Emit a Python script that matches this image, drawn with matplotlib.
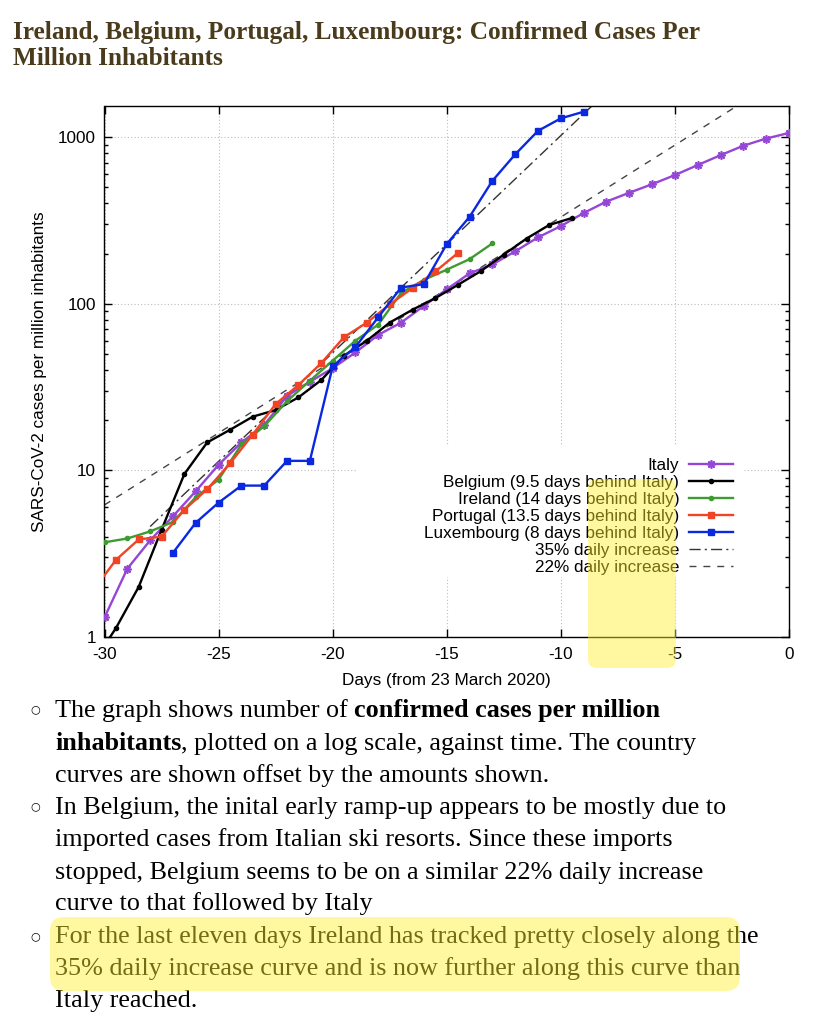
import numpy as np
import matplotlib
matplotlib.use('Agg')
import matplotlib.pyplot as plt
from matplotlib.patches import FancyBboxPatch, Rectangle
from matplotlib.ticker import LogLocator, NullFormatter, NullLocator

W, H = 828, 1019

# cases per million inhabitants, days relative to 23 March 2020 (Italy time)
italy_days = list(range(-30, 1))
italy = [1.31, 2.57, 3.8, 5.3, 7.5, 10.8, 14.7, 18.7, 28, 34, 41, 51, 65, 77, 97,
         122, 152, 172, 206, 250, 292, 350, 410, 463, 521, 591, 679, 778, 887, 979, 1058]

belgium_days = [d + 0.5 for d in range(-31, -9)]
belgium = [0.70, 1.13, 2.0, 4.4, 9.5, 14.7, 17.5, 21, 23, 27.4, 34.8, 48.8, 60, 77,
           92, 108, 130, 157, 197, 246, 297, 327]

ireland_days = list(range(-30, -12))
ireland = [3.7, 3.9, 4.3, 4.9, 6.9, 8.8, 14.3, 18.4, 26, 34.5, 45.5, 60, 75, 116,
           139, 160, 185, 230]

portugal_days = [d + 0.5 for d in range(-31, -14)]
portugal = [1.9, 2.9, 3.85, 4.0, 5.8, 7.7, 11.0, 16.4, 25, 32.5, 44, 63, 77, 99,
            124, 156, 202]

lux_days = list(range(-27, -8))
lux = [3.2, 4.85, 6.4, 8.1, 8.1, 11.4, 11.4, 42, 55, 83, 125, 131, 228, 332, 546,
       787, 1089, 1294, 1418]

# reference growth lines (end points)
r35_days = [-28, -8]
r35_vals = [4.6, 4.6 * 1.35 ** 20]
r22_days = [-30, 0]
r22_vals = [6.2, 6.2 * 1.22 ** 30]

labels = ['Italy', 'Belgium (9.5 days behind Italy)', 'Ireland (14 days behind Italy)',
          'Portugal (13.5 days behind Italy)', 'Luxembourg (8 days behind Italy)',
          '35% daily increase', '22% daily increase']

plt.rcParams['font.family'] = ['Liberation Sans', 'DejaVu Sans']
fs = 12.3

fig = plt.figure(figsize=(W / 100, H / 100), dpi=100)
ax_l, ax_r, ax_t, ax_b = 104.5, 789, 106, 637
ax = fig.add_axes([ax_l / W, 1 - ax_b / H, (ax_r - ax_l) / W, (ax_b - ax_t) / H])
ax.set_yscale('log')

lw = 1.7
ax.plot(italy_days, italy, color='#9646d6', lw=lw, marker=(8, 2, 0), ms=6, mew=1.2,
        label=labels[0], zorder=3)
ax.plot(belgium_days, belgium, color='black', lw=lw, marker='o', ms=3, label=labels[1], zorder=3)
ax.plot(ireland_days, ireland, color='#3f9a32', lw=lw, marker='o', ms=3, label=labels[2], zorder=3)
ax.plot(portugal_days, portugal, color='#f04424', lw=lw, marker='s', ms=4, label=labels[3], zorder=3)
ax.plot(lux_days, lux, color='#0a28e0', lw=lw, marker='s', ms=4, label=labels[4], zorder=3)
ax.plot(r35_days, r35_vals, color='#333333', lw=1.0, ls=(0, (8, 3, 1.5, 3)), label=labels[5], zorder=2.5)
ax.plot(r22_days, r22_vals, color='#444444', lw=1.0, ls=(0, (5, 5)), label=labels[6], zorder=2.5)

ax.set_xlim(-30, 0)
ax.set_ylim(1, 1535)
ax.set_xticks(range(-30, 1, 5))
ax.set_xticklabels([str(v) for v in range(-30, 1, 5)])
ax.set_yticks([1, 10, 100, 1000])
ax.set_yticklabels(['1', '10', '100', '1000'])
ax.yaxis.set_minor_locator(LogLocator(base=10, subs=np.arange(2, 10)))
ax.yaxis.set_minor_formatter(NullFormatter())
ax.xaxis.set_minor_locator(NullLocator())
ax.tick_params(which='both', direction='in', top=True, right=True, width=1, labelsize=fs)
ax.tick_params(which='major', length=5.5)
ax.tick_params(which='minor', length=3)
ax.tick_params(axis='x', pad=7)
ax.tick_params(axis='y', pad=6)
for sp in ax.spines.values():
    sp.set_linewidth(1.0)
ax.grid(True, which='major', color='#bcbcbc', linestyle=(0, (1, 2)), lw=0.8)
ax.set_axisbelow(True)

# opaque key area
ax.add_patch(Rectangle(((357 - ax_l) / (ax_r - ax_l), (ax_b - 577) / (ax_b - ax_t)),
                       (743 - 357) / (ax_r - ax_l), (577 - 445) / (ax_b - ax_t),
                       transform=ax.transAxes, fc='white', ec='none', zorder=1))
ax.legend(loc='upper right', bbox_to_anchor=(733 / W, 1 - 458 / H), bbox_transform=fig.transFigure,
          frameon=False, markerfirst=False, handlelength=2.6, handletextpad=0.55,
          labelspacing=0.12, borderpad=0, borderaxespad=0, fontsize=fs)

# overlay in pixel coordinates for page text and highlights
ov = fig.add_axes([0, 0, 1, 1], zorder=5)
ov.set_xlim(0, W)
ov.set_ylim(H, 0)
ov.axis('off')

ov.text((ax_l + ax_r) / 2, 680, 'Days (from 23 March 2020)', fontsize=fs, ha='center', va='center')
ov.text(40, (ax_t + ax_b) / 2, 'SARS-CoV-2 cases per million inhabitants', fontsize=fs,
        rotation=90, ha='center', va='center')

renderer = fig.canvas.get_renderer()


def tw(s, **kw):
    t = ov.text(0, 0, '|' + s + '|', **kw)
    w = t.get_window_extent(renderer).width
    t.set_text('||')
    w -= t.get_window_extent(renderer).width
    t.remove()
    return w


serif = 'Liberation Serif'

title1 = 'Ireland, Belgium, Portugal, Luxembourg: Confirmed Cases Per'
title2 = 'Million Inhabitants'
tsize = 16 * 690 / tw(title1, fontsize=16, family=serif, fontweight='bold')
for txt, yb in [(title1, 39), (title2, 65)]:
    ov.text(13, yb, txt, fontsize=tsize, family=serif, fontweight='bold',
            color='#4a3b1c', va='baseline')

body = [
    [('The graph shows number of ', False), ('confirmed cases per million', True)],
    [('inhabitants', True), (', plotted on a log scale, against time. The country', False)],
    [('curves are shown offset by the amounts shown.', False)],
    [('In Belgium, the inital early ramp-up appears to be mostly due to', False)],
    [('imported cases from Italian ski resorts. Since these imports', False)],
    [('stopped, Belgium seems to be on a similar 22% daily increase', False)],
    [('curve to that followed by Italy', False)],
    [('For the last eleven days Ireland has tracked pretty closely along the', False)],
    [('35% daily increase curve and is now further along this curve than', False)],
    [('Italy reached.', False)],
]
baselines = [717, 750, 782, 814, 846, 879, 910, 943, 975, 1007]
bsize = 16 * 672 / tw(body[3][0][0], fontsize=16, family=serif)

for parts, yb in zip(body, baselines):
    x = 55
    for s, bold in parts:
        kw = dict(fontsize=bsize, family=serif, fontweight='bold' if bold else 'normal')
        ov.text(x, yb, s, va='baseline', **kw)
        x += tw(s, **kw)

for yb in [709, 806, 936]:
    ov.text(35, yb, '○', fontsize=8, family='DejaVu Sans', ha='center', va='center')

# highlighter marks
ov.add_patch(FancyBboxPatch((588, 479), 88, 189, boxstyle='round,pad=0,rounding_size=9',
                            fc='#fff030', ec='none', alpha=0.45, zorder=10))
ov.add_patch(FancyBboxPatch((50, 917), 690, 74, boxstyle='round,pad=0,rounding_size=14',
                            fc='#fff030', ec='none', alpha=0.45, zorder=10))

fig.savefig('out.png', dpi=100)
